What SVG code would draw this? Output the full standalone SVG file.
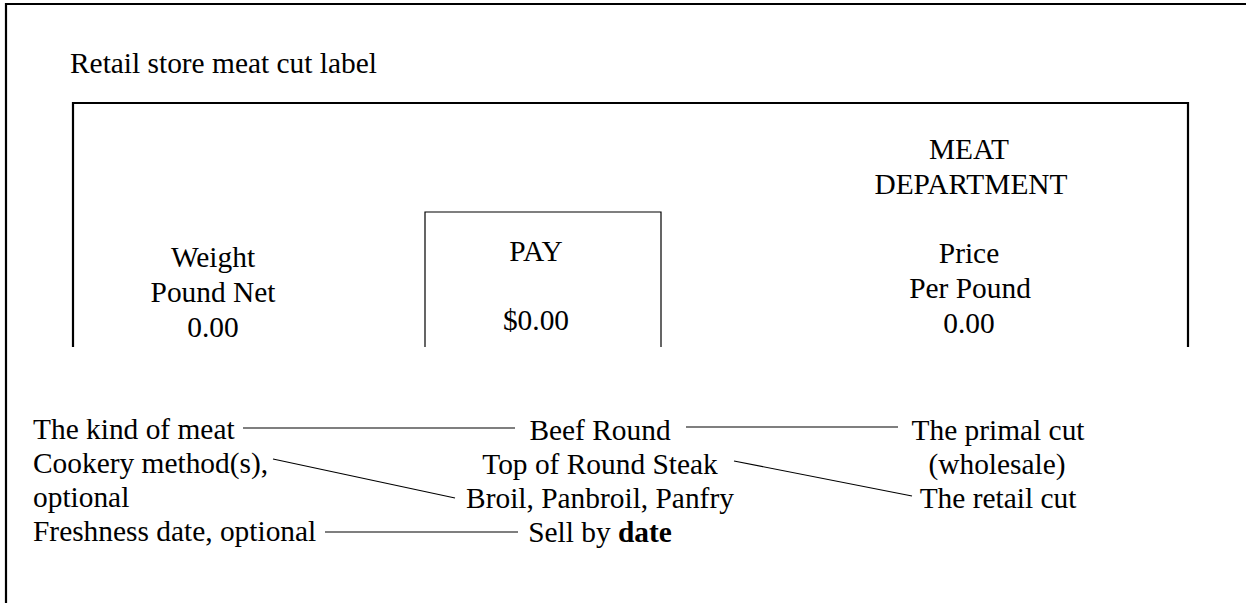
<svg xmlns="http://www.w3.org/2000/svg" width="1246" height="603" viewBox="0 0 1246 603">
  <style>
    text { font-family: "Liberation Serif", "Times New Roman", serif; font-size: 29.4px; fill: #000; }
    .mid { text-anchor: middle; }
    .frame { fill: none; stroke: #000; stroke-width: 2.2; }
    .thin { fill: none; stroke: #000; stroke-width: 1.2; }
    .conn { stroke: #000; stroke-width: 1.2; fill: none; }
  </style>
  <rect width="1246" height="603" fill="#fff"/>

  <!-- outer frame: top and left edges -->
  <path class="frame" d="M6,603 V4 H1246"/>

  <text x="70" y="73">Retail store meat cut label</text>

  <!-- label body, open at the bottom -->
  <g id="label-body">
    <path class="frame" d="M73,347 V103 H1188 V347"/>
  </g>

  <g id="weight">
    <text class="mid" x="213" y="267">Weight</text>
    <text class="mid" x="213" y="302">Pound Net</text>
    <text class="mid" x="213" y="337">0.00</text>
  </g>

  <g id="pay">
    <path class="thin" d="M425,347 V212 H661 V347"/>
    <text class="mid" x="536" y="261">PAY</text>
    <text class="mid" x="536" y="330">$0.00</text>
  </g>

  <g id="department">
    <text class="mid" x="969" y="159">MEAT</text>
    <text class="mid" x="971" y="194">DEPARTMENT</text>
  </g>

  <g id="price">
    <text class="mid" x="969" y="263">Price</text>
    <text class="mid" x="970" y="298">Per Pound</text>
    <text class="mid" x="969" y="333">0.00</text>
  </g>

  <g id="left-notes">
    <text x="33" y="439">The kind of meat</text>
    <text x="33" y="473">Cookery method(s),</text>
    <text x="33" y="507">optional</text>
    <text x="33" y="541">Freshness date, optional</text>
  </g>

  <g id="cut-lines">
    <text class="mid" x="600" y="440">Beef Round</text>
    <text class="mid" x="600" y="474">Top of Round Steak</text>
    <text class="mid" x="600" y="508">Broil, Panbroil, Panfry</text>
    <text class="mid" x="600" y="542">Sell by <tspan font-weight="bold">date</tspan></text>
  </g>

  <g id="right-notes">
    <text class="mid" x="998" y="440">The primal cut</text>
    <text class="mid" x="997" y="474">(wholesale)</text>
    <text class="mid" x="998" y="508">The retail cut</text>
  </g>

  <g id="connectors">
    <line class="conn" x1="243" y1="428" x2="515" y2="428"/>
    <line class="conn" x1="686" y1="427" x2="898" y2="427"/>
    <line class="conn" x1="273" y1="459" x2="455" y2="498"/>
    <line class="conn" x1="734" y1="461" x2="912" y2="496"/>
    <line class="conn" x1="325" y1="532" x2="518" y2="532"/>
  </g>
</svg>
